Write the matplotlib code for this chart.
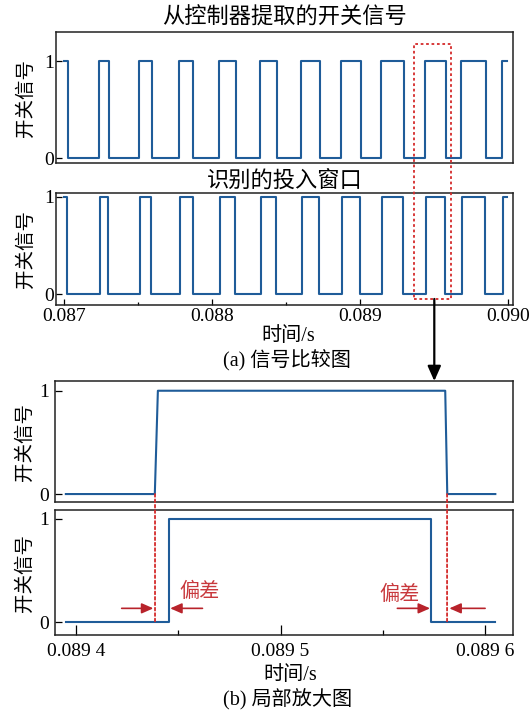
import numpy as np
import matplotlib
matplotlib.use('Agg')
import matplotlib.pyplot as plt
from matplotlib.patches import ConnectionPatch, Rectangle
from matplotlib.transforms import blended_transform_factory

plt.rcParams['font.family'] = ['Liberation Serif', 'Noto Sans CJK SC']

# controller switching signal, edge times (s) and levels
ctrl_t = [0.08700, 0.087023, 0.0872345, 0.087304, 0.087507, 0.087591, 0.087775, 0.087872,
          0.088047, 0.088158, 0.088322, 0.088437, 0.088597, 0.088728, 0.088868, 0.089005,
          0.089140, 0.089295, 0.0894395, 0.0895805, 0.089680, 0.089847, 0.089955, 0.08999]
ctrl_v = [1, 0, 1, 0, 1, 0, 1, 0, 1, 0, 1, 0, 1, 0, 1, 0, 1, 0, 1, 0, 1, 0, 1, 1]

# identified switching-in window
win_t = [0.08700, 0.087017, 0.087241, 0.087297, 0.087511, 0.087586, 0.087782, 0.087868,
         0.088052, 0.088153, 0.088329, 0.088430, 0.088604, 0.088721, 0.088874, 0.088998,
         0.089145, 0.089287, 0.0894455, 0.0895736, 0.089689, 0.089843, 0.089961, 0.08999]
win_v = [1, 0, 1, 0, 1, 0, 1, 0, 1, 0, 1, 0, 1, 0, 1, 0, 1, 0, 1, 0, 1, 0, 1, 1]

# zoomed section
zc_t = [0.089395, 0.0894385, 0.0894400, 0.0895805, 0.0895815, 0.089605]
zc_v = [0, 0, 1, 1, 0, 0]
zw_t = [0.089395, 0.0894455, 0.0894455, 0.0895736, 0.0895736, 0.089605]
zw_v = [0, 0, 1, 1, 0, 0]

ctrl_edges = [0.0894386, 0.0895814]   # red dotted reference lines
box_t = [0.089366, 0.089611]          # dotted box in (a)
arrow_t = 0.0895

blue = '#1f5c99'
red = '#d42a2a'
dark_red = '#b8232b'
txt_red = '#c8383c'

fig = plt.figure(figsize=(5.32, 7.13), dpi=100)
ax1 = fig.add_axes([0.1053, 0.7710, 0.8596, 0.1841])
ax2 = fig.add_axes([0.1053, 0.5722, 0.8596, 0.1567])
ax3 = fig.add_axes([0.1034, 0.2955, 0.8615, 0.1701])
ax4 = fig.add_axes([0.1034, 0.1094, 0.8615, 0.1753])

ax1.step(ctrl_t, ctrl_v, where='post', color=blue, lw=1.5)
ax2.step(win_t, win_v, where='post', color=blue, lw=1.5)
ax3.plot(zc_t, zc_v, color=blue, lw=1.5)
ax4.plot(zw_t, zw_v, color=blue, lw=1.5)

ax1.set_ylim(-0.051, 1.298)
ax2.set_ylim(-0.11, 1.035)
ax3.set_ylim(-0.08, 1.094)
ax4.set_ylim(-0.123, 1.087)
for ax in (ax1, ax2):
    ax.set_xlim(0.086944, 0.090034)
for ax in (ax3, ax4):
    ax.set_xlim(0.0893897, 0.0896138)

for ax in (ax1, ax2, ax3, ax4):
    ax.set_yticks([0, 1])
    ax.set_yticklabels(['0', '1'])
    for s in ax.spines.values():
        s.set_linewidth(1.1)
        s.set_color('#222222')
    ax.set_ylabel('开关信号', fontsize=14)

for ax in (ax1, ax2):
    ax.tick_params(axis='y', direction='in', length=4, width=0.9, pad=1.5, labelsize=14)
    ax.yaxis.set_label_coords(-0.047, 0.5)
for ax in (ax3, ax4):
    ax.tick_params(axis='y', direction='in', length=5, width=0.9, pad=4, labelsize=14)
    ax.yaxis.set_label_coords(-0.045, 0.5)

ax1.tick_params(axis='x', bottom=False, labelbottom=False)
ax3.tick_params(axis='x', bottom=False, labelbottom=False)

ax2.set_xticks([0.087, 0.088, 0.089, 0.090])
ax2.set_xticklabels(['0.087', '0.088', '0.089', '0.090'])
ax2.set_xticks([0.0875, 0.0885, 0.0895], minor=True)
ax2.tick_params(axis='x', which='major', direction='in', length=4, width=0.9, pad=2, labelsize=14)
ax2.tick_params(axis='x', which='minor', direction='in', length=2.5, width=0.9)

ax4.set_xticks([0.0894, 0.0895, 0.0896])
ax4.set_xticklabels(['0.089 4', '0.089 5', '0.089 6'])
ax4.set_xticks([0.08945, 0.08955], minor=True)
ax4.tick_params(axis='x', which='major', direction='in', length=7, width=0.9, pad=6, labelsize=14)
ax4.tick_params(axis='x', which='minor', direction='in', length=3.5, width=0.9)

H = 713.0
fig.text(0.5345, 1 - 18.5 / H, '从控制器提取的开关信号', ha='center', va='center', fontsize=16)
fig.text(0.5350, 1 - 181 / H, '识别的投入窗口', ha='center', va='center', fontsize=16)
fig.text(0.5410, 1 - 336.7 / H, '时间/s', ha='center', va='center', fontsize=14.5)
fig.text(0.5395, 1 - 360 / H, '(a) 信号比较图', ha='center', va='center', fontsize=14.5)
fig.text(0.5450, 1 - 675 / H, '时间/s', ha='center', va='center', fontsize=14.5)
fig.text(0.5413, 1 - 700 / H, '(b) 局部放大图', ha='center', va='center', fontsize=14.5)

# dotted box spanning both (a) panels
inv = fig.transFigure.inverted()
x0, y1 = inv.transform(ax1.transData.transform((box_t[0], 1.175)))
x1, _ = inv.transform(ax2.transData.transform((box_t[1], 0)))
_, y0 = inv.transform(ax2.transData.transform((box_t[0], -0.048)))
fig.patches.append(Rectangle((x0, y0), x1 - x0, y1 - y0, transform=fig.transFigure,
                             fill=False, edgecolor=red, lw=1.3, linestyle=(0, (1.5, 1.5)),
                             zorder=5))

# black arrow to zoom (x taken from panel (a) scale, y from zoom panel)
down = blended_transform_factory(ax2.transData, ax3.transData)
con = ConnectionPatch(xyA=(arrow_t, -0.048), coordsA=ax2.transData,
                      xyB=(arrow_t, ax3.get_ylim()[1]), coordsB=down,
                      arrowstyle='-|>,head_length=0.45,head_width=0.2', mutation_scale=20,
                      color='black', lw=1.6, shrinkA=0, shrinkB=0)
fig.add_artist(con)

# red dotted lines at controller edges
for t in ctrl_edges:
    c = ConnectionPatch(xyA=(t, 0), coordsA=ax3.transData, xyB=(t, 0), coordsB=ax4.transData,
                        color=red, lw=1.3, linestyle=(0, (1.5, 1.5)))
    fig.add_artist(c)

# deviation arrows
arr_y = 0.135
arrows = [(0.0894223, 0.0894378), (0.0894618, 0.0894460),
          (0.0895571, 0.0895731), (0.0896000, 0.0895825)]
for tail, tip in arrows:
    ax4.annotate('', xy=(tip, arr_y), xytext=(tail, arr_y),
                 arrowprops=dict(arrowstyle='-|>,head_length=0.5,head_width=0.22',
                                 color=dark_red, lw=1.2, mutation_scale=14,
                                 shrinkA=0, shrinkB=0))
ax4.text(0.0894606, 0.29, '偏差', color=txt_red, fontsize=14.5, ha='center', va='center')
ax4.text(0.0895584, 0.26, '偏差', color=txt_red, fontsize=14.5, ha='center', va='center')

fig.savefig('out.png', dpi=100)
